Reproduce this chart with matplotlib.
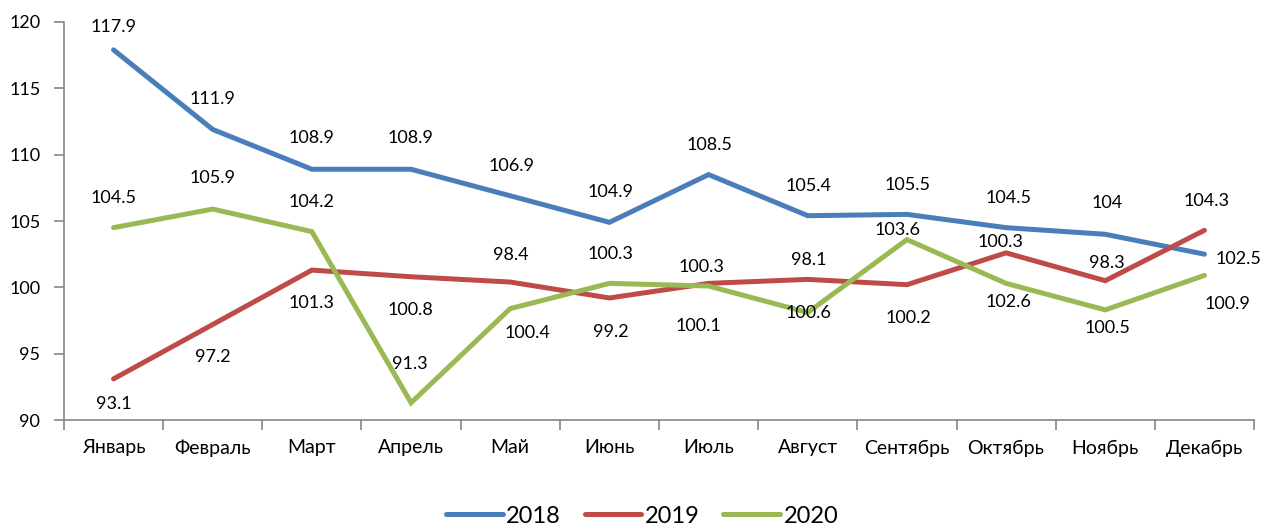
import matplotlib
matplotlib.use("Agg")
import matplotlib.pyplot as plt
import numpy as np

plt.rcParams['font.family'] = ['Lato', 'Noto Sans', 'DejaVu Sans']

months = ['Январь', 'Февраль', 'Март', 'Апрель', 'Май', 'Июнь',
          'Июль', 'Август', 'Сентябрь', 'Октябрь', 'Ноябрь', 'Декабрь']
years = ['2018', '2019', '2020']
v2018 = [117.9, 111.9, 108.9, 108.9, 106.9, 104.9, 108.5, 105.4, 105.5, 104.5, 104, 102.5]
v2019 = [93.1, 97.2, 101.3, 100.8, 100.4, 99.2, 100.3, 100.6, 100.2, 102.6, 100.5, 104.3]
v2020 = [104.5, 105.9, 104.2, 91.3, 98.4, 100.3, 100.1, 98.1, 103.6, 100.3, 98.3, 100.9]
yticks = [90, 95, 100, 105, 110, 115, 120]

colors = ['#4A7EBB', '#BE4B48', '#98B954']

# label offsets from the point, in pixels (dx right, dy up), as placed in the original
off2018 = [(0, 23), (0, 30), (0, 31), (-1, 31), (1, 30), (1, 30), (1, 30), (1, 30),
           (1, 29), (2, 30), (2, 31), (34, -5)]
off2019 = [(0, -25), (0, -33), (0, -33), (-1, -33), (17, -51), (1, -34), (-7, 16),
           (1, -34), (1, -33), (2, -49), (2, -47), (2, 29)]
off2020 = [(0, 30), (0, 31), (0, 30), (-1, 39), (1, 54), (1, 29), (-10, -40),
           (1, 53), (-9, 10), (-6, 41), (2, 47), (23, -29)]

dpi = 100
fig = plt.figure(figsize=(12.64, 5.30), dpi=dpi)
ax = fig.add_axes([0.0506, 0.2075, 0.9415, 0.751])

x = np.arange(len(months))
px2pt = 72 / dpi
for vals, offs, col, name in zip([v2018, v2019, v2020], [off2018, off2019, off2020],
                                 colors, years):
    ax.plot(x, vals, color=col, lw=3.6, label=name, solid_capstyle='round',
            solid_joinstyle='miter')
    for xi, v, (dx, dy) in zip(x, vals, offs):
        ax.annotate(f'{v:g}', (xi, v), xytext=(dx * px2pt, dy * px2pt),
                    textcoords='offset points', ha='center', va='center',
                    fontsize=13, color='black')

ax.set_xlim(-0.5, len(months) - 0.5)
ax.set_ylim(90, 120)
ax.set_yticks(yticks)
ax.set_xticks(x)
ax.set_xticklabels(months)
ax.set_xticks(np.arange(-0.5, len(months)), minor=True)
ax.tick_params(axis='x', which='major', length=0, pad=14, labelsize=14)
ax.tick_params(axis='x', which='minor', length=7, width=1.2, color='#868686')
ax.tick_params(axis='y', length=7, width=1.2, color='#868686', pad=10, labelsize=13)

for s in ['top', 'right']:
    ax.spines[s].set_visible(False)
for s in ['left', 'bottom']:
    ax.spines[s].set_color('#868686')
    ax.spines[s].set_linewidth(1.2)

fig.legend(loc='center', bbox_to_anchor=(0.508, 0.026), ncol=3, frameon=False,
           fontsize=17, handlelength=2.4, handletextpad=0.15, columnspacing=1.0,
           borderpad=0.1)

fig.savefig('out.png', dpi=dpi)
